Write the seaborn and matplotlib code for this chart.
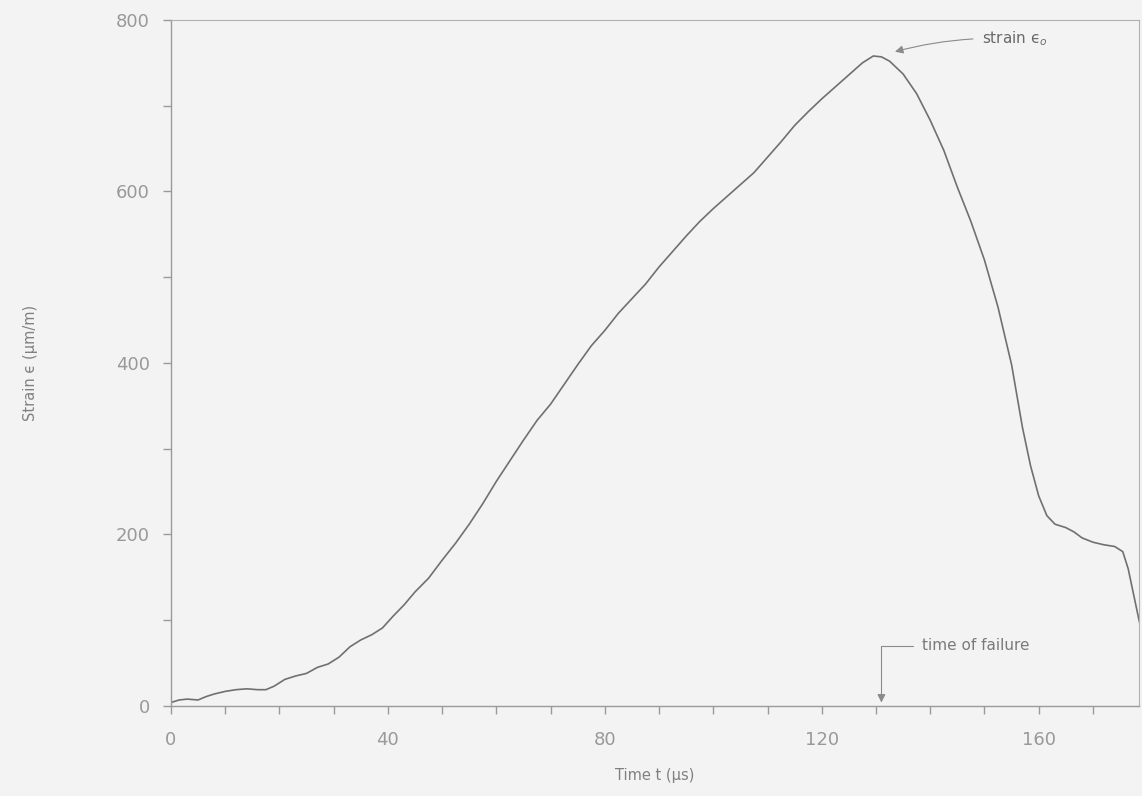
import numpy as np
import pandas as pd
import matplotlib
matplotlib.use('Agg')
import matplotlib.pyplot as plt
from matplotlib.ticker import MultipleLocator
import seaborn as sns

# Strain record
time_us = [0, 1.5, 3, 5, 6.5, 8, 10, 12, 14, 16, 17.5, 19, 21, 23, 25, 27, 29, 31,
           33, 35, 37, 39, 41, 43, 45, 47.5, 50, 52.5, 55, 57.5, 60, 62.5, 65,
           67.5, 70, 72.5, 75, 77.5, 80, 82.5, 85, 87.5, 90, 92.5, 95, 97.5, 100,
           102.5, 105, 107.5, 110, 112.5, 115, 117.5, 120, 122.5, 125, 127.5,
           129.5, 131, 132.5, 135, 137.5, 140, 142.5, 145, 147.5, 150, 152.5,
           155, 157, 158.5, 160, 161.5, 163, 165, 166.5, 168, 170, 172, 174,
           175.5, 176.5, 177.5, 178.5, 179.3]
strain = [4, 7, 8, 7, 11, 14, 17, 19, 20, 19, 19, 23, 31, 35, 38, 45, 49, 57,
          69, 77, 83, 91, 105, 118, 133, 149, 170, 190, 212, 236, 262, 286, 310,
          333, 352, 375, 398, 420, 438, 458, 475, 492, 512, 530, 548, 565, 580,
          594, 608, 622, 640, 658, 677, 693, 708, 722, 736, 750,
          758, 757, 752, 737, 714, 683, 648, 605, 565, 520, 465,
          398, 325, 280, 245, 222, 212, 208, 203, 196, 191, 188, 186,
          180, 160, 130, 100, 80]

peak_t, peak_strain = 130.5, 760
failure_t = 131

bg = '#f3f3f3'
ink = '#808080'

sns.set_style('ticks', {
    'axes.facecolor': bg,
    'figure.facecolor': bg,
    'axes.edgecolor': '#9a9a9a',
    'xtick.color': '#9a9a9a',
    'ytick.color': '#9a9a9a',
    'text.color': ink,
    'axes.labelcolor': ink,
})
plt.rcParams['font.family'] = ['DejaVu Sans']

df = pd.DataFrame({'Time': time_us, 'Strain': strain})

fig = plt.figure(figsize=(11.42, 7.96), dpi=100)
ax = fig.add_axes([0.1497, 0.1131, 0.8477, 0.8618])

sns.lineplot(data=df, x='Time', y='Strain', ax=ax, color='#707070', linewidth=1.2)

ax.set_xlim(0, 178.5)
ax.set_ylim(0, 800)
ax.xaxis.set_major_locator(MultipleLocator(40))
ax.xaxis.set_minor_locator(MultipleLocator(10))
ax.yaxis.set_major_locator(MultipleLocator(200))
ax.yaxis.set_minor_locator(MultipleLocator(100))
for which in ['major', 'minor']:
    ax.tick_params(axis='both', which=which, length=6, width=1.0, direction='out')
ax.tick_params(axis='x', which='major', pad=12, labelsize=13, labelcolor='#999999')
ax.tick_params(axis='y', which='major', pad=9, labelsize=13, labelcolor='#999999')

for s in ['top', 'right']:
    ax.spines[s].set_linewidth(0.8)
    ax.spines[s].set_color('#b0b0b0')
for s in ['left', 'bottom']:
    ax.spines[s].set_linewidth(1.0)

ax.set_xlabel('Time t (μs)', fontsize=10.5, labelpad=14)
ax.set_ylabel('Strain ϵ (μm/m)', fontsize=10.5, labelpad=56)

ax.annotate('strain ϵ$_o$', xy=(peak_t + 3, peak_strain + 3), xytext=(149.5, 778),
            fontsize=11, color='#6a6a6a', va='center', ha='left',
            arrowprops=dict(arrowstyle='-|>', color='#8a8a8a', lw=0.8,
                            shrinkA=4, shrinkB=0, mutation_scale=12,
                            connectionstyle='arc3,rad=0.08'))

ax.annotate('time of failure', xy=(failure_t, 4), xytext=(138.5, 70),
            fontsize=11, color='#7a7a7a', va='center', ha='left',
            arrowprops=dict(arrowstyle='-|>', color='#8a8a8a', lw=0.8,
                            shrinkA=4, shrinkB=0, mutation_scale=12,
                            connectionstyle='angle,angleA=0,angleB=90,rad=0'))

fig.savefig('out.png', dpi=100, facecolor=bg)
